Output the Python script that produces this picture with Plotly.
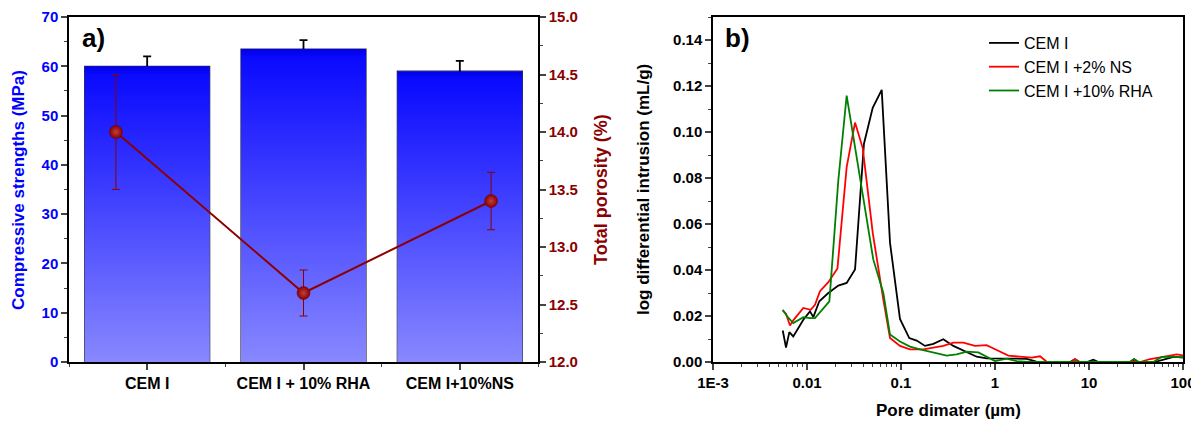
import plotly.graph_objects as go

# ---------------- Data: panel a ----------------
mixes = ["CEM I", "CEM I + 10% RHA", "CEM I+10%NS"]
strength = [60.0, 63.5, 59.0]
strength_err = [2.0, 1.8, 2.1]
porosity = [14.0, 12.6, 13.4]
porosity_err = [0.5, 0.2, 0.25]

# ---------------- Data: panel b ----------------
d_cem = [0.00552, 0.00598, 0.00649, 0.00714, 0.00914, 0.01076, 0.01167, 0.01352, 0.01687,
         0.02153, 0.02642, 0.03243, 0.04036, 0.05000, 0.06237, 0.07638, 0.0975, 0.1225,
         0.1469, 0.1799, 0.2208, 0.2818, 0.3606, 0.4797, 0.6383, 0.8147, 1.330, 2.173,
         2.754, 4.0, 6.31, 7.08, 7.94, 9.55, 11.1, 12.6, 28.2, 30.2, 33.1, 50.0, 63.1, 79.4, 100.0]
v_cem = [0.0137, 0.0063, 0.0130, 0.0111, 0.0184, 0.0220, 0.0195, 0.0264, 0.0300,
         0.0332, 0.0344, 0.0402, 0.0949, 0.1105, 0.1183, 0.0519, 0.0187, 0.0104,
         0.0093, 0.0070, 0.0079, 0.0099, 0.0070, 0.0045, 0.0023, 0.0016, 0.0016, 0.0014,
         0.0002, 0.0, 0.0, 0.0012, 0.0, 0.0, 0.0010, 0.0, 0.0, 0.0012, 0.0, 0.0, 0.0012, 0.0022, 0.0020]

d_ns = [0.00552, 0.00598, 0.00659, 0.00714, 0.00914, 0.01094, 0.01216, 0.01374, 0.01687,
        0.02109, 0.02642, 0.03243, 0.03917, 0.0501, 0.06486, 0.07638, 0.0975, 0.1247,
        0.1730, 0.2301, 0.2818, 0.3606, 0.4603, 0.6124, 0.8147, 1.042, 1.387, 1.845,
        2.455, 3.013, 3.548, 5.01, 6.31, 7.10, 7.94, 34.9, 44.6, 61.7, 85.7, 100.0]
v_ns = [0.0223, 0.0210, 0.0159, 0.0181, 0.0235, 0.0227, 0.0249, 0.0308, 0.0347,
        0.0407, 0.0847, 0.1041, 0.0930, 0.0560, 0.0271, 0.0104, 0.0070, 0.0055,
        0.0055, 0.0064, 0.0070, 0.0084, 0.0084, 0.0070, 0.0073, 0.0052, 0.0028, 0.0023,
        0.0019, 0.0025, 0.0001, 0.0, 0.0, 0.0013, 0.0, 0.0, 0.0013, 0.0022, 0.0033, 0.0029]

d_rha = [0.00552, 0.00608, 0.00714, 0.00914, 0.01076, 0.01216, 0.01730, 0.02153, 0.02642,
         0.03664, 0.05070, 0.06486, 0.07638, 0.0975, 0.1247, 0.1592, 0.2037, 0.3062,
         0.3908, 0.5000, 0.6653, 0.8147, 1.0, 1.330, 1.698, 2.24, 26.9, 30.1, 33.9,
         48.3, 59.3, 78.9, 100.0]
v_rha = [0.0227, 0.0201, 0.0169, 0.0195, 0.0191, 0.0191, 0.0264, 0.0789, 0.1158,
         0.0796, 0.0446, 0.0300, 0.0120, 0.0089, 0.0067, 0.0055, 0.0045, 0.0028,
         0.0033, 0.0045, 0.0042, 0.0023, 0.0004, 0.0015, 0.0004, 0.0, 0.0, 0.0013, 0.0,
         0.0, 0.0022, 0.0023, 0.0019]

log_ticks = [0.001, 0.01, 0.1, 1, 10, 100]
log_ticktext = ["1E-3", "0.01", "0.1", "1", "10", "100"]

FONT = "Arial, Liberation Sans, sans-serif"
BLUE = "#0000FF"
DRED = "#8B0000"

# the page body adds an 8px margin; size the figure so it fills the 1199x421 window
OX, OY = 8, 8
W, H = 1199 - OX, 421 - OY


def px(x):
    return (x - OX) / W


def py(y):
    return (H - (y - OY)) / H


fig = go.Figure()

# gradient-filled bars (panel a)
bar_w = 0.8
xpos = list(range(len(mixes)))
for i, v in zip(xpos, strength):
    fig.add_trace(go.Scatter(
        x=[i - bar_w / 2, i + bar_w / 2, i + bar_w / 2, i - bar_w / 2, i - bar_w / 2],
        y=[0, 0, v, v, 0], mode="lines", fill="toself",
        line=dict(width=0, color="rgba(0,0,0,0)"),
        fillgradient=dict(type="vertical", start=0, stop=v,
                          colorscale=[[0, "#8888FF"], [0.97, "#0A0AFF"], [1, "#0000E8"]]),
        hoverinfo="skip", showlegend=False, xaxis="x", yaxis="y"))

fig.add_trace(go.Bar(
    x=xpos, y=strength, width=bar_w,
    marker=dict(color="rgba(0,0,0,0)", line=dict(color="#333333", width=1.2)),
    error_y=dict(type="data", array=strength_err, color="black", thickness=1.8, width=4),
    showlegend=False, xaxis="x", yaxis="y"))

fig.add_trace(go.Scatter(
    x=xpos, y=porosity, mode="lines+markers",
    line=dict(color=DRED, width=2),
    marker=dict(size=13, color=DRED, line=dict(color="#6A0000", width=0.5),
                gradient=dict(type="radial", color="#C04040")),
    error_y=dict(type="data", array=porosity_err, color=DRED, thickness=1, width=4),
    showlegend=False, xaxis="x3", yaxis="y2"))

# panel b
for d, v, name, col in [(d_cem, v_cem, "CEM I", "black"),
                        (d_ns, v_ns, "CEM I +2% NS", "#FF0000"),
                        (d_rha, v_rha, "CEM I +10% RHA", "#008000")]:
    fig.add_trace(go.Scatter(x=d, y=v, mode="lines", name=name,
                             line=dict(color=col, width=1.8),
                             xaxis="x2", yaxis="y3"))

ydom = [py(362), py(17)]
xdomA = [px(69), px(538)]
xdomB = [px(713), px(1183)]
tickf = dict(family=FONT, size=15, color="black", weight="bold")

fig.update_layout(
    width=W, height=H, margin=dict(l=0, r=0, t=0, b=0, autoexpand=False),
    paper_bgcolor="white", plot_bgcolor="white",
    font=dict(family=FONT),
    bargap=0.2,
    xaxis=dict(domain=xdomA, range=[-0.5, 2.5], tickmode="array", tickvals=xpos,
               ticktext=mixes, tickfont=dict(family=FONT, size=16, color="black", weight="bold"),
               ticks="outside", ticklen=6, tickwidth=1.5, automargin=False,
               showline=True, linecolor="black", linewidth=1.5, mirror=True,
               showgrid=False, zeroline=False, anchor="y",
               minor=dict(tickmode="array", tickvals=[-0.5, 0.5, 1.5, 2.5],
                          ticks="outside", ticklen=3, tickwidth=1.2)),
    yaxis=dict(domain=ydom, range=[0, 70], dtick=10, anchor="x", automargin=False,
               tickfont=dict(family=FONT, size=15, color=BLUE, weight="bold"),
               ticks="outside", ticklen=6, tickwidth=1.5,
               showline=True, linecolor="black", linewidth=1.5,
               showgrid=False, zeroline=False,
               minor=dict(dtick=5, ticks="outside", ticklen=3, tickwidth=1.2)),
    yaxis2=dict(overlaying="y", side="right", anchor="x", range=[12, 15], dtick=0.5,
                tickformat=".1f", automargin=False,
                tickfont=dict(family=FONT, size=15, color=DRED, weight="bold"),
                ticks="outside", ticklen=6, tickwidth=1.5,
                showline=True, linecolor="black", linewidth=1.5,
                showgrid=False, zeroline=False,
                minor=dict(dtick=0.25, ticks="outside", ticklen=3, tickwidth=1.2)),
    xaxis3=dict(overlaying="x", range=[-0.25, 2.25], visible=False, anchor="y2",
                automargin=False),
    xaxis2=dict(domain=xdomB, type="log", range=[-3, 2], tickmode="array",
                tickvals=log_ticks, ticktext=log_ticktext, tickfont=tickf,
                ticks="outside", ticklen=6, tickwidth=1.5, automargin=False,
                showline=True, linecolor="black", linewidth=1.5, mirror=True,
                showgrid=False, zeroline=False, anchor="y3",
                minor=dict(tickmode="array",
                           tickvals=[m * 10 ** e for e in range(-3, 2) for m in range(2, 10)],
                           ticks="outside", ticklen=3, tickwidth=1.2)),
    yaxis3=dict(domain=ydom, range=[0, 0.15], dtick=0.02, tickformat=".2f", anchor="x2",
                tickfont=tickf, ticks="outside", ticklen=6, tickwidth=1.5, automargin=False,
                showline=True, linecolor="black", linewidth=1.5, mirror=True,
                showgrid=False, zeroline=False,
                minor=dict(dtick=0.01, ticks="outside", ticklen=3, tickwidth=1.2)),
    legend=dict(x=px(984), y=py(26), xanchor="left", yanchor="top",
                bgcolor="rgba(0,0,0,0)", font=dict(family=FONT, size=16, color="black"),
                tracegroupgap=0, itemwidth=30),
)

ann = [
    dict(text="<b>Compressive strengths (MPa)</b>", x=px(18), y=py(190), textangle=-90,
         font=dict(size=17, color=BLUE)),
    dict(text="<b>Total porosity (%)</b>", x=px(601), y=py(190), textangle=-90,
         font=dict(size=18, color=DRED)),
    dict(text="<b>log differential intrusion (mL/g)</b>", x=px(643), y=py(190), textangle=-90,
         font=dict(size=17, color="black")),
    dict(text="<b>Pore dimater (µm)</b>", x=px(948), y=py(410),
         font=dict(size=17, color="black")),
    dict(text="<b>a)</b>", x=px(93), y=py(38), font=dict(size=26, color="black")),
    dict(text="<b>b)</b>", x=px(737), y=py(38), font=dict(size=26, color="black")),
]
for a in ann:
    fig.add_annotation(xref="paper", yref="paper", showarrow=False,
                       xanchor="center", yanchor="middle", font_family=FONT, **a)

fig.write_html("out.html")
